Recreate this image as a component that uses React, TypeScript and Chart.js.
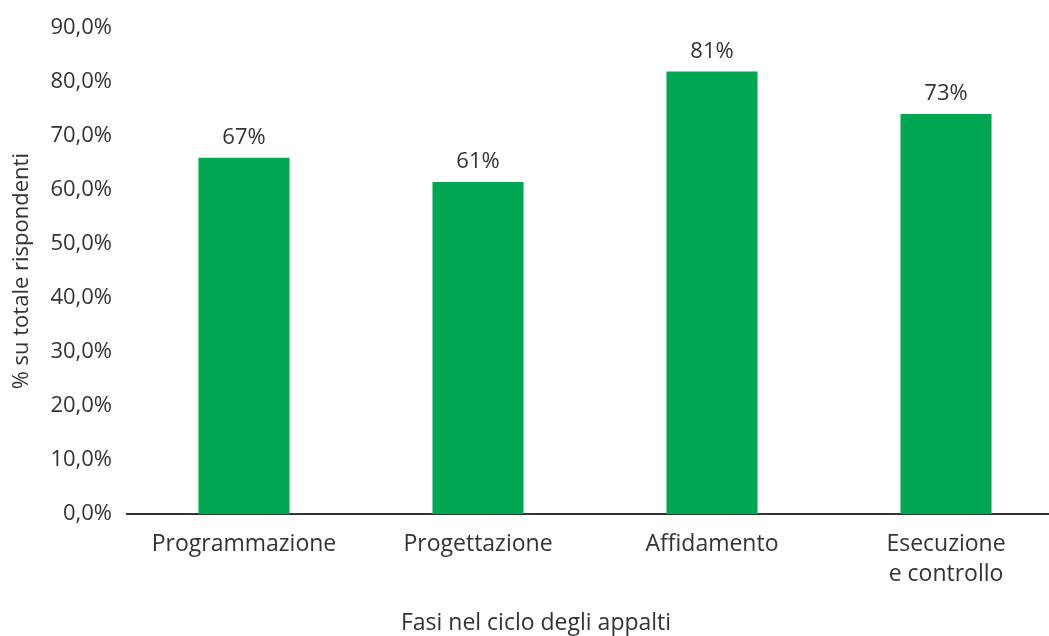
import React, { useEffect, useRef } from "react";
import { Chart, registerables } from "chart.js";

Chart.register(...registerables);

const categories: (string | string[])[] = [
  "Programmazione",
  "Progettazione",
  "Affidamento",
  ["Esecuzione", "e controllo"],
];
const values: number[] = [66.0, 61.5, 82.0, 74.1];
const valueLabels: string[] = ["67%", "61%", "81%", "73%"];
const yTicks: number[] = [0, 10, 20, 30, 40, 50, 60, 70, 80, 90];
const xTitle = "Fasi nel ciclo degli appalti";
const yTitle = "% su totale rispondenti";

const FONT = "'Open Sans', 'Noto Sans', sans-serif";
const TEXT = "#333333";
const GREEN = "#00A651";

const barLabels = {
  id: "barLabels",
  afterDatasetsDraw(chart: any) {
    const ctx = chart.ctx;
    const meta = chart.getDatasetMeta(0);
    ctx.save();
    ctx.font = `22px ${FONT}`;
    ctx.fillStyle = TEXT;
    ctx.textAlign = "center";
    ctx.textBaseline = "middle";
    meta.data.forEach((bar: any, i: number) => {
      ctx.fillText(valueLabels[i], bar.x, bar.y - 20);
    });
    ctx.restore();
  },
};

const xTitlePlugin = {
  id: "xTitlePlugin",
  afterDraw(chart: any) {
    const ctx = chart.ctx;
    ctx.save();
    ctx.font = `23px ${FONT}`;
    ctx.fillStyle = TEXT;
    ctx.textAlign = "center";
    ctx.textBaseline = "middle";
    ctx.fillText(xTitle, 536, chart.chartArea.bottom + 109);
    ctx.restore();
  },
};

export default function App() {
  const ref = useRef<HTMLCanvasElement | null>(null);
  useEffect(() => {
    if (!ref.current) return;
    const chart = new Chart(ref.current, {
      type: "bar",
      data: {
        labels: categories,
        datasets: [
          {
            data: values,
            backgroundColor: GREEN,
            barPercentage: 0.389,
            categoryPercentage: 1,
          },
        ],
      },
      plugins: [barLabels, xTitlePlugin],
      options: {
        responsive: false,
        animation: false,
        layout: { padding: { top: 15, right: 7, bottom: 32, left: 0 } },
        plugins: { legend: { display: false }, tooltip: { enabled: false } },
        scales: {
          x: {
            grid: { display: false, drawTicks: false },
            border: { display: true, color: "#333333", width: 2 },
            ticks: {
              color: TEXT,
              font: { family: FONT, size: 23, lineHeight: 1.3 },
              padding: 15,
              maxRotation: 0,
              autoSkip: false,
            },
            title: { display: false },
          },
          y: {
            min: 0,
            max: 90,
            afterBuildTicks: (scale: any) => {
              scale.ticks = yTicks.map((v) => ({ value: v }));
            },
            afterFit: (scale: any) => {
              scale.width = 127;
            },
            grid: { display: false, drawTicks: false },
            border: { display: false },
            ticks: {
              color: TEXT,
              font: { family: FONT, size: 22 },
              padding: 15,
              callback: (v: any) => Number(v).toFixed(1).replace(".", ",") + "%",
            },
            title: {
              display: true,
              text: yTitle,
              color: TEXT,
              font: { family: FONT, size: 22 },
              padding: { top: 9, bottom: 0 },
            },
          },
        },
      },
    });
    return () => chart.destroy();
  }, []);
  return (
    <div
      style={{
        position: "fixed",
        left: 0,
        top: 0,
        width: 1049,
        height: 636,
        overflow: "hidden",
        background: "#fff",
      }}
    >
      <canvas ref={ref} width={1070} height={636} style={{ width: 1070, height: 636 }} />
    </div>
  );
}
